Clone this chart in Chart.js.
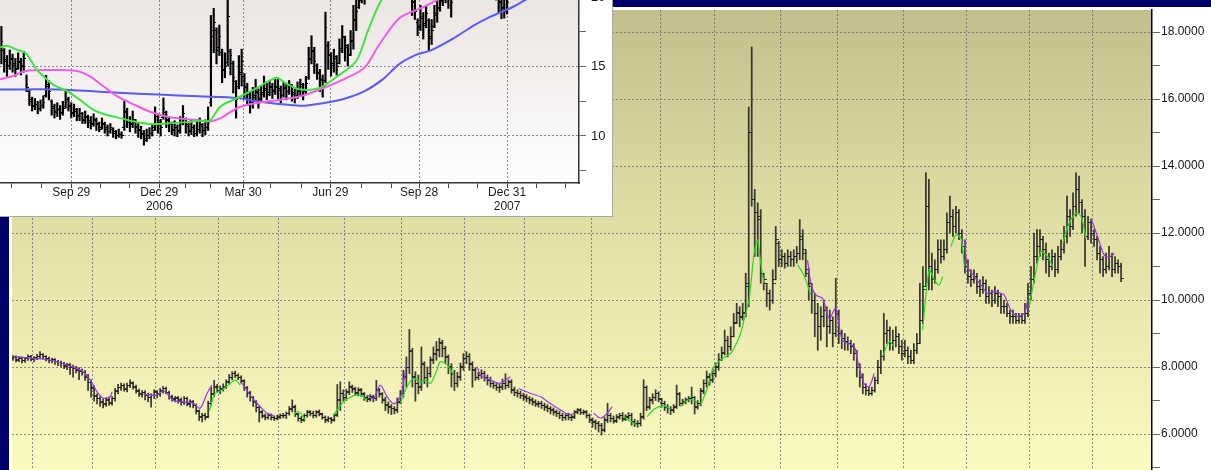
<!DOCTYPE html>
<html><head><meta charset="utf-8">
<script src="https://cdn.jsdelivr.net/npm/chart.js@4.4.0/dist/chart.umd.min.js"></script>
<style>
html,body{margin:0;padding:0;width:1211px;height:470px;overflow:hidden;background:#fff;}
#main{position:absolute;left:0;top:0;}
#insetBox{position:absolute;left:0;top:0;width:612px;height:216px;overflow:hidden;background:#fff;border-right:1px solid #a8a8a8;border-bottom:1px solid #a8a8a8;}
#inset{position:absolute;left:0;top:-20px;}
</style></head><body>
<canvas id="main" width="1211" height="520"></canvas>
<div id="insetBox"><canvas id="inset" width="612" height="236"></canvas></div>
<script>
// ---------------- MAIN CHART DATA (daily bars, index 0..369) ----------------
const mainOpen = [
8.24,8.30,8.20,8.27,8.18,8.25,8.32,8.22,8.26,8.30,
8.36,8.30,8.26,8.18,8.22,8.16,8.13,8.10,8.02,8.06,
8.00,7.96,7.92,7.86,7.84,7.72,7.55,7.38,7.12,7.06,
6.98,6.88,7.02,6.92,7.06,7.28,7.38,7.46,7.32,7.44,
7.52,7.42,7.28,7.18,7.24,7.16,7.08,7.14,7.26,7.18,
7.28,7.36,7.24,7.12,7.02,7.08,7.02,6.94,7.06,6.88,
6.96,6.84,6.68,6.52,6.56,6.52,6.92,7.18,7.42,7.28,
7.34,7.42,7.56,7.68,7.82,7.74,7.68,7.58,7.38,7.22,
7.08,6.96,6.78,6.66,6.52,6.48,6.56,6.48,6.46,6.52,
6.56,6.54,6.62,6.74,6.82,6.58,6.46,6.42,6.56,6.66,
6.62,6.56,6.66,6.58,6.48,6.42,6.46,6.42,6.58,7.02,
7.22,7.08,7.26,7.42,7.34,7.22,7.32,7.18,7.08,7.04,
7.12,7.06,7.32,7.18,7.02,6.88,6.82,6.76,6.72,6.98,
7.22,7.72,8.00,8.46,7.72,7.52,7.42,8.08,7.68,7.82,
8.22,8.38,8.52,8.72,8.54,8.28,8.02,7.78,7.52,7.72,
8.02,8.24,8.32,8.08,7.92,7.70,7.76,7.82,7.68,7.62,
7.52,7.46,7.38,7.42,7.52,7.44,7.56,7.32,7.24,7.22,
7.16,7.12,7.06,7.02,6.96,6.88,6.92,6.86,6.82,6.76,
6.72,6.66,6.62,6.56,6.48,6.56,6.48,6.52,6.66,6.72,
6.64,6.66,6.54,6.42,6.36,6.32,6.26,6.12,6.42,6.56,
6.46,6.38,6.52,6.56,6.44,6.52,6.56,6.36,6.28,6.32,
6.52,7.38,6.82,7.02,7.08,7.22,7.02,6.92,6.82,6.76,
6.72,6.82,7.18,6.92,6.96,7.02,7.06,7.08,6.82,6.92,
7.28,7.52,7.72,7.62,7.82,8.02,8.22,8.42,8.78,8.62,
8.92,9.32,9.62,9.48,9.62,10.40,15.00,13.00,12.60,12.40,
10.80,10.50,10.20,10.00,10.60,11.70,11.20,11.30,11.10,11.30,
11.20,11.30,11.40,11.90,11.40,10.80,10.40,10.00,9.60,9.20,
9.50,9.70,9.20,9.40,9.00,9.60,9.00,8.85,8.75,8.70,
8.60,8.40,8.00,7.70,7.40,7.30,7.20,7.30,7.60,8.00,
8.30,9.00,9.10,8.70,8.80,8.90,8.60,8.40,8.50,8.30,
8.20,8.50,8.70,9.40,10.40,12.80,11.00,10.60,10.90,11.50,
11.30,11.50,12.30,12.50,12.20,12.60,12.00,11.60,11.00,10.70,
10.60,10.70,10.40,10.30,10.50,10.10,10.20,10.00,10.20,10.10,
9.80,9.80,9.60,9.50,9.50,9.40,9.50,9.40,9.60,10.20,
10.60,11.30,11.60,11.80,11.50,11.20,11.00,11.30,10.90,11.30,
11.50,11.90,12.50,12.20,12.80,13.30,12.90,12.50,11.90,12.30,
12.00,11.80,11.40,11.20,10.90,11.00,11.30,10.90,11.10,11.00];
const mainHigh = [
8.34,8.33,8.31,8.30,8.29,8.36,8.35,8.31,8.38,8.46,
8.40,8.34,8.30,8.27,8.25,8.20,8.18,8.14,8.11,8.10,
8.06,8.02,7.98,7.94,7.90,7.78,7.62,7.44,7.20,7.12,
7.05,7.08,7.10,7.12,7.36,7.48,7.52,7.50,7.52,7.62,
7.56,7.46,7.34,7.30,7.30,7.22,7.20,7.32,7.30,7.36,
7.42,7.40,7.28,7.16,7.12,7.12,7.08,7.12,7.10,7.02,
7.00,6.90,6.72,6.62,6.62,6.98,7.40,7.60,7.48,7.44,
7.50,7.62,7.78,7.86,7.88,7.80,7.74,7.62,7.42,7.28,
7.12,7.00,6.84,6.70,6.60,6.62,6.60,6.54,6.56,6.60,
6.62,6.66,6.82,7.02,6.86,6.62,6.52,6.60,6.70,6.70,
6.68,6.70,6.72,6.62,6.54,6.52,6.50,6.60,7.48,7.56,
7.32,7.34,7.56,7.46,7.40,7.38,7.36,7.24,7.14,7.18,
7.16,7.60,7.36,7.24,7.10,6.96,6.88,6.82,7.08,7.30,
7.90,8.30,9.12,8.56,7.86,7.76,8.60,8.16,8.00,8.30,
8.60,8.76,8.86,8.80,8.62,8.36,8.10,7.90,7.84,8.12,
8.40,8.46,8.40,8.16,7.98,7.84,7.92,7.88,7.76,7.70,
7.58,7.54,7.48,7.64,7.80,7.62,7.62,7.40,7.32,7.28,
7.22,7.18,7.12,7.08,7.02,6.98,6.98,6.92,6.88,6.82,
6.78,6.72,6.68,6.62,6.60,6.62,6.58,6.70,6.76,6.76,
6.72,6.70,6.60,6.48,6.42,6.38,6.32,6.50,6.92,6.62,
6.54,6.58,6.62,6.64,6.58,6.64,6.62,6.44,6.40,6.62,
7.62,7.44,7.10,7.20,7.32,7.26,7.06,6.98,6.88,6.82,
6.88,7.46,7.24,7.04,7.08,7.12,7.40,7.12,7.00,7.36,
7.62,7.88,7.80,7.94,8.12,8.40,8.60,9.10,8.92,9.20,
9.60,9.90,9.80,9.90,10.80,15.76,17.55,13.30,12.90,12.70,
10.80,10.50,10.30,10.90,12.20,11.75,11.50,11.40,11.50,11.45,
11.50,11.60,12.40,12.10,11.50,10.95,10.50,10.20,9.90,9.80,
10.00,9.80,9.70,9.50,10.65,9.70,9.10,9.00,8.90,8.80,
8.70,8.50,8.10,7.80,7.50,7.40,7.40,7.70,8.20,8.50,
9.60,9.40,9.20,9.10,9.20,9.00,8.80,8.80,8.60,8.50,
8.70,9.00,10.50,11.00,13.80,13.60,11.40,11.20,11.80,11.80,
11.80,12.60,13.10,12.70,12.80,12.70,12.10,11.80,11.20,10.90,
10.90,10.80,10.60,10.70,10.60,10.40,10.30,10.40,10.30,10.20,
10.00,9.90,9.70,9.70,9.60,9.60,9.60,9.90,10.50,11.00,
12.00,12.10,12.10,11.90,11.70,11.40,11.50,11.40,11.60,11.80,
12.20,13.10,12.70,13.20,13.80,13.70,13.00,12.70,12.50,12.40,
12.10,11.90,11.60,11.30,11.40,11.60,11.40,11.30,11.20,11.10];
const mainLow = [
8.20,8.15,8.16,8.12,8.14,8.20,8.18,8.16,8.22,8.26,
8.24,8.18,8.12,8.12,8.08,8.04,8.00,7.95,7.92,7.78,
7.70,7.82,7.62,7.76,7.60,7.30,7.10,6.98,6.90,6.82,
6.78,6.82,6.86,6.86,6.98,7.20,7.30,7.28,7.26,7.38,
7.34,7.22,7.12,7.10,7.02,6.96,6.80,7.06,7.08,7.12,
7.22,7.20,7.04,6.98,6.96,6.92,6.86,6.88,6.84,6.80,
6.78,6.60,6.40,6.36,6.42,6.48,6.86,7.12,7.24,7.20,
7.28,7.36,7.50,7.62,7.68,7.62,7.52,7.30,7.10,6.98,
6.82,6.66,6.36,6.48,6.42,6.44,6.42,6.40,6.42,6.46,
6.48,6.46,6.56,6.66,6.52,6.38,6.34,6.38,6.50,6.54,
6.48,6.50,6.54,6.44,6.34,6.36,6.32,6.38,6.52,6.70,
6.98,7.00,7.18,7.24,7.16,7.14,7.12,7.00,6.96,6.98,
6.96,7.00,7.10,6.92,6.70,6.62,6.58,6.60,6.64,6.90,
7.10,7.40,7.80,7.40,6.98,7.20,7.30,7.50,7.40,7.70,
8.10,8.20,8.30,8.30,8.10,7.80,7.40,7.30,7.40,7.60,
7.90,8.10,7.90,7.40,7.60,7.62,7.66,7.58,7.46,7.40,
7.36,7.30,7.24,7.32,7.34,7.38,7.22,7.14,7.10,7.06,
7.00,6.96,6.90,6.86,6.82,6.80,6.76,6.70,6.66,6.60,
6.56,6.52,6.46,6.40,6.42,6.42,6.40,6.46,6.60,6.58,
6.58,6.48,6.34,6.20,6.14,6.06,5.97,6.06,6.34,6.36,
6.32,6.34,6.44,6.38,6.40,6.44,6.26,6.22,6.20,6.24,
6.44,6.70,6.74,6.90,7.00,6.96,6.80,6.70,6.62,6.58,
6.64,6.76,6.84,6.86,6.90,6.96,6.90,6.60,6.74,6.84,
7.20,7.40,7.46,7.54,7.70,7.90,8.20,8.36,8.30,8.50,
8.90,9.30,9.20,9.40,9.50,9.80,12.80,11.30,11.30,10.50,
10.30,9.80,9.70,9.90,10.60,11.00,11.00,10.95,11.00,11.00,
11.00,11.10,11.20,11.20,10.70,10.00,9.60,8.90,8.50,8.80,
9.20,8.60,9.00,8.60,8.90,8.70,8.55,8.50,8.50,8.40,
8.20,7.70,7.40,7.20,7.16,7.15,7.16,7.25,7.50,7.80,
8.20,8.70,8.50,8.50,8.60,8.40,8.20,8.30,8.10,8.10,
8.10,8.40,8.70,9.30,10.40,10.30,10.30,10.50,10.80,11.10,
11.20,11.40,12.00,11.90,12.00,11.80,11.40,10.80,10.50,10.40,
10.50,10.20,10.10,10.20,9.90,9.90,9.80,9.90,9.80,9.60,
9.60,9.50,9.30,9.30,9.30,9.30,9.30,9.30,9.50,10.00,
10.50,11.10,11.30,11.20,10.80,10.70,10.90,10.70,10.80,11.20,
11.40,11.70,11.90,12.10,12.50,12.60,12.00,11.00,11.80,11.70,
11.60,11.20,10.80,10.70,10.80,10.90,10.70,10.80,10.80,10.55];
const mainClose = [
8.28,8.22,8.26,8.20,8.24,8.30,8.25,8.27,8.32,8.38,
8.30,8.25,8.20,8.22,8.15,8.12,8.10,8.05,8.05,7.98,
7.95,7.90,7.88,7.85,7.70,7.55,7.35,7.15,7.05,6.95,
6.90,7.00,6.95,7.05,7.30,7.40,7.45,7.35,7.45,7.55,
7.40,7.30,7.20,7.25,7.15,7.10,7.15,7.25,7.20,7.30,
7.35,7.25,7.10,7.05,7.05,7.00,6.95,7.05,6.90,6.95,
6.85,6.70,6.50,6.55,6.50,6.90,7.20,7.40,7.30,7.35,
7.40,7.55,7.70,7.80,7.75,7.70,7.60,7.40,7.25,7.10,
6.95,6.80,6.65,6.55,6.50,6.55,6.50,6.45,6.50,6.55,
6.55,6.60,6.75,6.80,6.60,6.45,6.40,6.55,6.65,6.60,
6.55,6.65,6.60,6.50,6.40,6.45,6.40,6.55,7.00,7.20,
7.10,7.25,7.40,7.35,7.25,7.30,7.20,7.10,7.05,7.10,
7.05,7.30,7.20,7.00,6.85,6.80,6.75,6.70,6.95,7.20,
7.70,8.00,8.50,7.70,7.50,7.40,8.10,7.70,7.80,8.20,
8.40,8.50,8.70,8.55,8.30,8.00,7.80,7.50,7.70,8.00,
8.25,8.30,8.10,7.90,7.70,7.75,7.80,7.70,7.60,7.50,
7.45,7.40,7.40,7.50,7.45,7.55,7.30,7.25,7.20,7.15,
7.10,7.05,7.00,6.95,6.90,6.90,6.85,6.80,6.75,6.70,
6.65,6.60,6.55,6.50,6.55,6.50,6.50,6.65,6.70,6.65,
6.65,6.55,6.40,6.35,6.30,6.25,6.10,6.40,6.55,6.45,
6.40,6.50,6.55,6.45,6.50,6.55,6.35,6.30,6.30,6.50,
7.40,6.80,7.00,7.10,7.20,7.05,6.90,6.80,6.75,6.70,
6.80,7.20,6.90,6.95,7.00,7.05,7.10,6.80,6.90,7.30,
7.50,7.70,7.60,7.80,8.00,8.20,8.40,8.80,8.60,8.90,
9.30,9.60,9.50,9.60,10.50,15.00,13.00,12.60,12.50,10.80,
10.60,10.20,10.00,10.50,11.80,11.20,11.30,11.10,11.30,11.20,
11.30,11.40,11.80,11.50,10.90,10.50,10.00,9.60,9.20,9.50,
9.70,9.20,9.40,9.00,9.60,9.00,8.85,8.75,8.70,8.60,
8.40,8.00,7.70,7.40,7.30,7.20,7.30,7.60,8.00,8.30,
9.00,9.10,8.70,8.80,8.90,8.60,8.40,8.50,8.30,8.20,
8.50,8.70,9.40,10.30,12.80,11.00,10.60,10.90,11.50,11.30,
11.50,12.30,12.50,12.20,12.60,12.00,11.60,11.00,10.70,10.60,
10.70,10.40,10.30,10.50,10.10,10.20,10.00,10.20,10.10,9.80,
9.80,9.60,9.50,9.50,9.40,9.50,9.40,9.60,10.20,10.60,
11.30,11.60,11.80,11.50,11.20,11.00,11.30,10.90,11.30,11.50,
11.90,12.50,12.20,12.80,13.30,12.90,12.50,11.90,12.30,12.00,
11.80,11.40,11.20,10.90,11.00,11.30,10.90,11.10,11.00,10.65];

// month boundaries (bar index) for the vertical grid lines
const mainMonthTicks = [6.5,26.5,47.5,68.5,88.5,110.5,129.5,150.5,170.5,192.5,215.5,233.5,255.5,274.5,296.5,317.5,338.5,359.5];

// indicator line (green while rising, purple while falling); null = gap
const maGreenIdx = [65.4,67.3,69.6,72.3,74,75.7,null,
 93.4,95.1,97.3,null,
 106.8,110.1,113.4,115.7,117.9,null,
 129,131.2,133.4,135.7,137.3,139,141.2,142.3,144.6,146.8,null,
 203.4,205.7,207.9,null,
 211.2,213.4,216.8,219,null,
 222.3,224.6,226.8,227.9,null,
 229,231.2,233.4,235.7,239,240.1,242.3,243.4,245.1,246.8,247.9,249,250.1,null,
 261.3,263.3,265.7,null,
 289.6,291.8,293.4,null,
 302.9,305.1,306.8,308.4,309.6,null,
 312.3,314,315.7,316.8,null,
 338.4,340.1,342.3,344.6,346.2,null,
 349.6,351.2,354,355.7,357.3];
const maGreenVal = [6.70,7.21,7.31,7.51,7.61,7.46,null,
 6.57,6.67,6.42,null,
 6.57,6.96,7.14,7.16,7.01,null,
 6.92,7.41,7.66,7.56,7.61,7.51,7.91,8.16,8.06,7.76,null,
 6.52,6.37,6.27,null,
 6.52,6.74,6.84,6.74,null,
 6.82,7.01,7.01,6.92,null,
 6.87,7.36,8.00,8.21,8.41,8.56,9.00,9.40,10.00,11.39,11.79,11.10,10.50,null,
 11.05,10.75,10.15,null,
 8.31,8.76,8.61,null,
 9.10,10.90,10.60,10.45,10.70,null,
 11.59,11.94,11.84,11.00,null,
 9.80,10.60,11.44,11.29,11.00,null,
 11.69,12.19,12.59,12.49,11.84];
const maPurpleIdx = [0,6.7,12.3,18,23.3,25.7,28,30,32.3,33,null,
 43.4,47.9,50.1,53.4,56.8,60.1,62.3,64.6,66.2,null,
 75.9,79,82.3,84.6,86.8,null,
 117.9,120.1,122.3,124.6,126.8,129,129.6,131,null,
 154.6,155.7,159,162.3,164.6,165.7,null,
 168.4,172.3,175.7,179,182.3,184.6,186.8,null,
 193.4,195.7,197.9,199.6,null,
 264.6,265.7,267.3,269.6,271.8,274,276.2,280.1,281.2,283.4,285.1,286.8,null,
 316.8,317.9,320.1,322.3,324.6,326.8,329,330.1,332.3,334.6,336.8,337.9,null,
 359,361.2,363.4,365.1,366.8];
const maPurpleVal = [8.31,8.26,8.21,8.06,7.86,7.61,7.26,7.07,7.11,7.26,null,
 7.18,7.16,7.29,7.01,6.96,6.92,6.77,7.21,7.46,null,
 7.56,7.16,6.82,6.62,6.54,null,
 7.16,7.06,7.46,7.11,6.90,7.11,7.31,8.06,null,
 8.01,7.76,7.61,7.51,7.66,7.71,null,
 7.36,7.21,7.11,6.90,6.72,6.60,6.59,null,
 6.62,6.47,6.62,6.82,null,
 11.19,10.50,10.15,10.05,9.45,9.75,8.81,8.61,8.21,7.51,7.41,7.81,null,
 11.79,11.00,10.70,10.45,10.20,10.25,10.20,10.15,9.70,9.52,9.60,10.00,null,
 12.44,11.89,11.34,11.29,11.39];

// ---------------- INSET CHART DATA (bar k at trading day 1+2k) ----------------
const insetOpen = [
16.2,16.2,15.4,15.1,15.5,15.1,14.9,15.3,15.1,14.2,
13.2,12.5,12.1,12.3,12.0,12.2,12.9,13.7,12.5,12.1,
11.7,11.9,11.7,12.1,12.6,12.1,11.6,11.8,11.4,11.6,
11.1,11.3,11.1,10.8,11.1,10.9,10.5,10.8,10.6,10.3,
10.5,10.3,10.0,10.1,10.6,11.7,11.1,10.9,11.0,10.7,
10.5,10.1,9.7,10.0,10.2,10.6,11.4,11.0,11.3,11.7,
11.1,10.8,10.4,10.6,10.4,11.0,11.2,10.7,10.3,10.6,
10.2,10.5,10.7,10.4,10.6,12.4,17.2,17.6,16.2,16.0,
14.7,15.3,16.1,15.2,13.9,13.6,14.4,14.3,13.5,13.1,
12.3,12.9,13.1,12.7,13.1,13.3,13.1,13.6,13.3,13.5,
13.4,12.9,13.5,13.2,13.7,13.0,12.9,13.2,13.7,13.3,
14.2,15.5,16.1,15.1,14.5,14.1,14.0,16.5,15.9,15.1,
15.7,15.2,16.3,17.1,16.5,15.9,16.9,18.3,19.3,19.8,
20.1,20.3,20.6,20.8,21.2,21.4,21.7,22.0,21.7,21.9,
22.3,22.0,21.7,21.4,21.6,21.2,20.9,20.3,19.7,18.2,
17.8,18.5,18.1,18.3,17.2,17.9,18.7,19.3,19.7,20.1,
20.5,20.1,20.4,20.7,21.0,21.2,21.7,21.3,21.8,22.0,
21.8,21.6,21.3,21.4,21.1,20.8,20.8,20.6,20.2,19.7,
19.3,19.0,20.0,20.5,20.9,21.1,21.5,21.7,22.0,22.3];
const insetHigh = [
17.9,16.3,15.8,16.2,15.9,15.6,16.0,15.6,16.1,14.4,
13.3,12.8,12.7,12.5,12.6,12.9,14.37,14.0,12.6,12.3,
12.4,12.2,12.5,13.35,12.8,12.4,12.3,12.0,12.0,11.7,
11.8,11.5,11.4,11.6,11.3,11.0,11.3,11.0,10.8,10.9,
10.6,10.4,10.5,10.3,12.6,12.0,11.4,11.8,11.2,10.9,
10.7,10.4,10.5,10.6,10.8,12.1,11.6,11.2,12.74,11.8,
11.4,11.0,11.1,10.8,11.4,12.2,11.3,10.9,11.2,10.8,
11.0,11.3,10.9,11.17,12.1,18.69,19.2,17.8,18.0,16.26,
16.0,19.9,16.26,15.4,14.0,15.8,16.26,14.5,13.8,13.2,
13.5,14.08,13.4,13.6,14.32,13.8,14.0,13.8,14.2,14.08,
13.6,13.9,13.8,14.0,13.7,13.4,13.9,14.1,13.8,14.3,
16.4,17.23,16.4,15.2,14.8,14.4,18.93,16.8,16.0,16.26,
15.8,17.0,17.96,17.2,16.6,17.6,19.42,19.8,20.6,20.9,
21.0,21.2,21.5,21.8,22.0,22.3,22.5,22.1,22.4,22.8,
22.5,22.2,21.9,22.1,21.7,21.4,21.1,20.4,19.8,18.45,
19.42,18.9,19.4,18.45,18.4,19.42,20.0,20.5,20.8,21.0,
20.8,20.6,21.3,21.5,21.8,22.1,21.9,22.3,22.6,22.4,
22.1,21.8,22.0,21.7,21.4,21.2,21.1,21.0,20.4,20.0,
19.9,20.3,20.9,21.3,21.7,21.9,22.3,22.5,22.8,23.0];
const insetLow = [
15.2,14.6,14.3,14.8,14.6,14.3,14.8,14.4,14.6,13.2,
12.2,11.8,11.9,11.6,11.8,12.0,12.8,12.6,11.5,11.3,
11.4,11.2,11.5,12.0,11.8,11.3,11.4,11.1,11.1,10.9,
10.9,10.6,10.5,10.7,10.4,10.3,10.5,10.2,10.0,10.2,
9.9,9.8,9.9,9.83,10.4,10.6,10.3,10.6,10.2,9.9,
9.8,9.34,9.6,9.8,10.0,10.4,10.2,10.0,11.2,10.6,
10.3,10.1,10.0,9.95,10.2,10.8,10.2,10.0,10.1,9.95,
10.0,10.2,9.95,10.1,10.4,12.14,16.0,15.2,15.8,13.84,
14.2,15.05,14.4,13.1,11.29,13.4,13.6,12.62,12.2,11.65,
12.0,12.5,12.0,12.4,12.8,12.62,12.9,12.7,13.0,12.7,
12.38,12.8,12.6,13.0,12.5,12.38,12.7,12.9,12.6,13.0,
14.08,15.2,14.5,14.08,13.2,12.8,13.84,14.8,14.32,14.6,
14.4,15.2,16.0,15.4,15.05,15.8,16.26,17.6,19.2,19.6,
19.5,19.9,20.2,20.5,21.0,21.3,21.5,21.1,21.4,21.8,
21.5,21.2,20.9,21.1,20.7,20.4,20.1,18.69,18.4,17.23,
17.6,16.99,17.8,16.14,16.6,17.8,18.2,19.0,19.4,19.6,
19.2,18.57,20.3,20.5,20.8,21.1,20.9,21.3,21.6,21.4,
21.1,20.8,21.0,20.7,20.4,20.2,20.1,19.8,18.9,18.45,
18.5,18.8,19.9,20.3,20.7,20.9,21.3,21.5,21.8,22.0];
const insetClose = [
16.8,15.5,15.0,15.6,15.2,14.8,15.4,15.0,15.6,13.5,
12.6,12.2,12.3,12.0,12.2,12.4,13.6,13.2,12.0,11.8,
11.9,11.6,12.0,12.6,12.2,11.7,11.9,11.5,11.6,11.2,
11.4,11.0,10.9,11.2,10.8,10.6,10.9,10.5,10.3,10.6,
10.2,10.0,10.1,10.0,11.8,11.0,10.8,11.2,10.6,10.4,
10.2,9.8,10.0,10.2,10.4,11.6,11.0,10.6,12.0,11.2,
10.8,10.5,10.6,10.3,10.9,11.6,10.8,10.4,10.6,10.2,
10.5,10.8,10.4,10.6,11.0,17.6,18.2,16.4,17.2,14.8,
15.0,18.6,15.8,14.2,12.6,14.6,15.4,13.6,13.0,12.4,
12.8,13.2,12.6,13.0,13.4,13.0,13.5,13.2,13.6,13.3,
12.9,13.4,13.2,13.6,13.1,12.8,13.3,13.6,13.2,13.8,
15.6,16.2,15.4,14.6,14.0,13.6,17.8,15.8,15.2,15.6,
15.0,16.2,17.2,16.4,15.8,16.8,18.4,19.0,19.8,20.2,
20.4,20.6,20.9,21.2,21.5,21.8,22.0,21.6,21.9,22.3,
22.0,21.7,21.4,21.6,21.2,20.9,20.6,19.6,19.0,17.9,
18.6,18.0,18.8,17.0,17.6,18.8,19.2,19.8,20.2,20.4,
20.0,19.6,20.8,21.0,21.3,21.6,21.4,21.8,22.1,21.9,
21.6,21.3,21.5,21.2,20.9,20.7,20.6,20.3,19.6,19.2,
19.0,19.6,20.4,20.8,21.2,21.4,21.8,22.0,22.3,22.5];

// moving averages of the inset (trading-day position, value)
const insetGreenDay = [0,5,11,18,23,26,31,38,48,57,67,76,86,96,107,119,134,143,150,158,170,184,198,204,215,229,240,255,263,271,280];
const insetGreenVal = [16.4,16.5,16.26,16.0,15.3,14.8,14.32,13.7,13.23,12.62,11.89,11.53,11.29,11.04,10.87,10.9,11.0,11.1,11.1,12.14,12.74,13.47,14.2,13.84,13.35,13.47,14.2,15.41,17.48,19.42,21.0];
const insetPinkDay = [0,10,18,36,55,64,74,84,96,107,119,131,143,150,158,170,184,198,215,229,246,261,271,286,301,315,330];
const insetPinkVal = [14.08,14.35,14.69,14.76,14.69,14.32,13.59,12.86,12.26,11.77,11.41,11.24,11.12,11.04,11.29,12.02,12.38,12.57,12.86,13.35,14.08,14.93,16.51,18.5,19.2,19.9,20.6];
const insetBlueDay = [0,42,85,113,142,170,184,198,215,232,246,261,274,286,299,308,324,339,348,360,367,378,392];
const insetBlueVal = [13.35,13.35,13.11,12.99,12.86,12.74,12.5,12.33,12.18,12.38,12.67,13.23,14.08,15.2,15.9,16.15,17.0,17.96,18.45,18.98,19.3,19.9,20.5];

// inset time axis ticks (trading-day position) and labels
const insetTickDays = [8.5,30,51,72,93,114,133,151,174,194,215.5,236.5,259,280,300,321,342,363,384,405];
const insetTickLabels = ['','','Sep 29','','',['Dec 29','2006'],'','','Mar 30','','','Jun 29','','','Sep 28','','',['Dec 31','2007'],'',''];

// ---------------- helpers ----------------
const FONT = "'Liberation Sans', Arial, Helvetica, sans-serif";
Chart.defaults.font.family = FONT;

function tickImg(side, len, color) {
  const c = document.createElement('canvas');
  c.width = len * 2; c.height = 1;
  const x = c.getContext('2d');
  x.fillStyle = color;
  if (side === 'L') x.fillRect(0, 0, len, 1); else x.fillRect(len, 0, len, 1);
  return c;
}
function segData(idx, val) {
  const out = []; let last = 0;
  for (let k = 0; k < idx.length; k++) {
    if (idx[k] === null || val[k] === null) out.push({x: last, y: null});
    else { last = idx[k]; out.push({x: idx[k], y: val[k]}); }
  }
  return out;
}

// ---------------- MAIN CHART ----------------
const mainBg = {
  id: 'mainBg',
  beforeDraw(chart) {
    const {ctx, chartArea: a, width, height} = chart;
    ctx.save();
    ctx.fillStyle = '#ffffff'; ctx.fillRect(0, 0, width, height);
    ctx.fillStyle = '#00006c'; ctx.fillRect(0, 0, width, 7); ctx.fillRect(0, 0, 9, height);
    const g = ctx.createLinearGradient(0, a.top, 0, 470);
    g.addColorStop(0, '#c2bf8c'); g.addColorStop(0.5, '#e3e0a7'); g.addColorStop(1, '#fbfac0');
    ctx.fillStyle = g; ctx.fillRect(a.left, a.top, a.right - a.left, a.bottom - a.top);
    ctx.restore();
  }
};
const gridCol = 'rgba(95,95,95,0.7)';
const barCol = 'rgba(22,22,22,0.82)';
new Chart(document.getElementById('main'), {
  type: 'line',
  data: { datasets: [
    { type: 'line', data: segData(maGreenIdx, maGreenVal), borderColor: '#22dd22', borderWidth: 1.2, pointRadius: 0, spanGaps: false, tension: 0.3 },
    { type: 'line', data: segData(maPurpleIdx, maPurpleVal), borderColor: '#9a35ee', borderWidth: 1.2, pointRadius: 0, spanGaps: false, tension: 0.3 },
    { type: 'line', showLine: false, data: mainOpen.map((v, i) => ({x: i, y: v})), pointStyle: tickImg('L', 3, barCol), pointRadius: 2 },
    { type: 'line', showLine: false, data: mainClose.map((v, i) => ({x: i, y: v})), pointStyle: tickImg('R', 3, barCol), pointRadius: 2 },
    { type: 'bar', data: mainHigh.map((h, i) => ({x: i, y: [mainLow[i], h]})), backgroundColor: barCol, borderWidth: 0, barThickness: 1.1 }
  ]},
  options: {
    responsive: false, animation: false, events: [],
    layout: { autoPadding: false, padding: { left: 12, top: 10, right: 0, bottom: 0 } },
    plugins: { legend: { display: false }, tooltip: { enabled: false } },
    scales: {
      x: {
        type: 'linear', min: -0.33, max: 379.3, offset: false,
        afterFit(s) { s.height = 0; s.paddingLeft = 0; s.paddingRight = 0; },
        afterBuildTicks(s) { s.ticks = mainMonthTicks.map(v => ({value: v})); },
        ticks: { display: false },
        grid: { color: gridCol, drawTicks: false, offset: false, lineWidth: 1 },
        border: { display: false, dash: [2, 2] }
      },
      y: {
        type: 'linear', position: 'right', min: 3.433, max: 18.657, beginAtZero: false,
        afterFit(s) { s.width = 59; s.paddingTop = 0; s.paddingBottom = 0; },
        ticks: { stepSize: 1, includeBounds: false, autoSkip: false, padding: 1, color: '#161616',
          font: { family: FONT, size: 12 },
          callback: v => (Math.round(v) % 2 === 0 ? Number(v).toFixed(4) : '') },
        grid: { color: c => (c.tick && Math.round(c.tick.value) % 2 === 0) ? gridCol : 'rgba(0,0,0,0)',
          tickColor: '#6a6a6a', tickLength: 8, lineWidth: 1 },
        border: { display: true, color: '#000', width: 1.5, dash: [2, 2] }
      }
    }
  },
  plugins: [mainBg]
});

// ---------------- INSET CHART ----------------
const insetBg = {
  id: 'insetBg',
  beforeDraw(chart) {
    const {ctx, chartArea: a, width, height} = chart;
    ctx.save();
    ctx.fillStyle = '#ffffff'; ctx.fillRect(0, 0, width, height);
    const g = ctx.createLinearGradient(0, 20, 0, a.bottom);
    g.addColorStop(0, '#ebe5e3'); g.addColorStop(1, '#fefefe');
    ctx.fillStyle = g; ctx.fillRect(a.left, a.top, a.right - a.left, a.bottom - a.top);
    ctx.restore();
  }
};
const insetGrid = 'rgba(110,110,110,0.8)';
new Chart(document.getElementById('inset'), {
  type: 'line',
  data: { datasets: [
    { type: 'line', data: insetGreenDay.map((d, k) => ({x: d, y: insetGreenVal[k]})), borderColor: '#3fe43f', borderWidth: 2, pointRadius: 0, tension: 0.3 },
    { type: 'line', data: insetPinkDay.map((d, k) => ({x: d, y: insetPinkVal[k]})), borderColor: '#f35ce6', borderWidth: 2, pointRadius: 0, tension: 0.3 },
    { type: 'line', data: insetBlueDay.map((d, k) => ({x: d, y: insetBlueVal[k]})), borderColor: '#5b5bee', borderWidth: 2, pointRadius: 0, tension: 0.3 },
    { type: 'line', showLine: false, data: insetOpen.map((v, k) => ({x: 1 + 2 * k, y: v})), pointStyle: tickImg('L', 2, '#000'), pointRadius: 2 },
    { type: 'line', showLine: false, data: insetClose.map((v, k) => ({x: 1 + 2 * k, y: v})), pointStyle: tickImg('R', 2, '#000'), pointRadius: 2 },
    { type: 'bar', data: insetHigh.map((h, k) => ({x: 1 + 2 * k, y: [insetLow[k], h]})), backgroundColor: '#000', borderWidth: 0, barThickness: 1.5 }
  ]},
  options: {
    responsive: false, animation: false, events: [],
    layout: { autoPadding: false, padding: 0 },
    plugins: { legend: { display: false }, tooltip: { enabled: false } },
    scales: {
      x: {
        type: 'linear', min: 0, max: 414.5, offset: false,
        afterFit(s) { s.height = 33; s.paddingLeft = 0; s.paddingRight = 0; },
        afterBuildTicks(s) { s.ticks = insetTickDays.map(v => ({value: v})); },
        ticks: { autoSkip: false, maxRotation: 0, minRotation: 0, padding: -2, color: '#1a1a1a',
          font: { family: FONT, size: 12, lineHeight: 1.15 },
          callback: (v, i) => insetTickLabels[i] },
        grid: { color: c => (insetTickLabels[c.index] ? insetGrid : 'rgba(0,0,0,0)'), tickColor: '#444', tickLength: 5, offset: false },
        border: { display: true, color: '#333', width: 1.5, dash: [2, 2] }
      },
      y: {
        type: 'linear', position: 'right', min: 6.611, max: 21.247, beginAtZero: false,
        afterFit(s) { s.width = 33; s.paddingTop = 0; s.paddingBottom = 0; },
        ticks: { stepSize: 2.5, includeBounds: false, autoSkip: false, padding: 5, color: '#1a1a1a',
          font: { family: FONT, size: 13 },
          callback: v => (Math.abs(v % 5) < 1e-6 ? String(v) : '') },
        grid: { color: c => (c.tick && Math.abs(c.tick.value % 5) < 1e-6) ? insetGrid : 'rgba(0,0,0,0)',
          tickColor: '#666', tickLength: 7 },
        border: { display: true, color: '#333', width: 1.5, dash: [2, 2] }
      }
    }
  },
  plugins: [insetBg]
});
</script>
</body></html>
